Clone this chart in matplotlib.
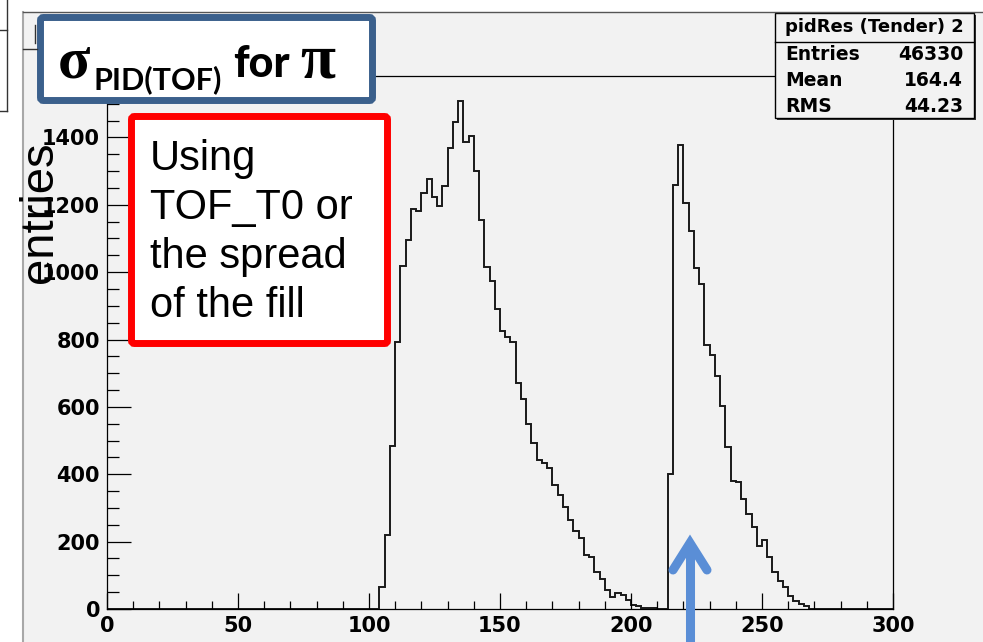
import numpy as np
import matplotlib.pyplot as plt
from matplotlib.patches import Rectangle, FancyBboxPatch

# pidRes (Tender) 2 -- 2-unit bins between 0 and 300
bin_width = 2
x_range = (0, 300)

peak1_start = 104
peak1_counts = [66, 220, 483, 793, 1019, 1096, 1187, 1183, 1235, 1277,
                1224, 1197, 1257, 1369, 1446, 1507, 1386, 1403, 1299, 1155,
                1016, 974, 890, 825, 807, 793, 670, 624, 550, 493,
                443, 434, 419, 367, 339, 304, 264, 231, 212, 159,
                155, 110, 88, 57, 37, 47, 42, 27, 12, 10,
                3, 2, 2]

peak2_start = 214
peak2_counts = [402, 1260, 1378, 1205, 1121, 1012, 966, 784, 754, 691,
                604, 482, 381, 378, 326, 282, 242, 187, 205, 155,
                110, 84, 65, 39, 25, 14, 9]

stat_title = 'pidRes (Tender) 2'
stat_names = ['Entries', 'Mean', 'RMS']
stat_values = ['46330', '164.4', '44.23']
note_lines = ['Using', 'TOF_T0 or', 'the spread', 'of the fill']

edges = np.arange(x_range[0], x_range[1] + bin_width, bin_width)
counts = np.zeros(len(edges) - 1)
i1 = (peak1_start - x_range[0]) // bin_width
i2 = (peak2_start - x_range[0]) // bin_width
counts[i1:i1 + len(peak1_counts)] = peak1_counts
counts[i2:i2 + len(peak2_counts)] = peak2_counts

W, H = 983, 642
bg = '#f2f2f2'
fig = plt.figure(figsize=(W / 100, H / 100), dpi=100, facecolor=bg)

# histogram frame
ax = fig.add_axes([107 / W, (H - 609) / H, (893 - 107) / W, (609 - 76) / H])
ax.set_facecolor(bg)
ax.stairs(counts, edges, color='#1a1a1a', lw=1.4)
ax.set_xlim(*x_range)
ax.set_ylim(0, 1.05 * counts.max())
for sp in ax.spines.values():
    sp.set_color('black')
    sp.set_linewidth(0.9)

ax.set_xticks(np.arange(0, 301, 50))
ax.set_xticks(np.arange(0, 301, 10), minor=True)
ax.set_yticks(np.arange(0, 1401, 200))
ax.set_yticks(np.arange(0, ax.get_ylim()[1], 50), minor=True)
ax.tick_params(which='both', direction='in', top=False, right=False,
               width=0.9, color='black')
ax.tick_params(axis='x', which='major', length=11.5, pad=5)
ax.tick_params(axis='x', which='minor', length=5.8)
ax.tick_params(axis='y', which='major', length=17, pad=5)
ax.tick_params(axis='y', which='minor', length=8.6)
for lab in ax.get_xticklabels() + ax.get_yticklabels():
    lab.set_fontfamily('DejaVu Sans')
    lab.set_fontweight('bold')
    lab.set_fontsize(15)

# overlay in pixel units
ov = fig.add_axes([0, 0, 1, 1], zorder=5)
ov.set_xlim(0, W)
ov.set_ylim(H, 0)
ov.axis('off')
ov.patch.set_alpha(0)

# canvas border and the edge of the neighbouring pad
ov.add_patch(Rectangle((0, 0), W, 12, fc='white', ec='none'))
ov.add_patch(Rectangle((0, 0), 23, H, fc='white', ec='none'))
ov.plot([23, 23], [12, H], color='#a8a8a8', lw=1.5)
ov.plot([23, W], [12, 12], color='#555555', lw=1)
ov.plot([7, 7], [0, 111], color='#333333', lw=1)
ov.plot([0, 7], [111, 111], color='#333333', lw=1)
ov.plot([0, 7], [30, 30], color='#333333', lw=1)
ov.plot([23, 37], [49, 49], color='#333333', lw=1)
ov.plot([35, 35], [25, 43], color='#333333', lw=1)

ov.text(40, 212, 'entries', rotation=90, fontsize=34, ha='center',
        va='center', family='Liberation Sans')

# stats box
ov.add_patch(Rectangle((777, 15), 199, 105, fc='#333333', ec='none'))
ov.add_patch(Rectangle((775, 13), 199, 105, fc=bg, ec='black', lw=1))
ov.plot([775, 974], [42, 42], color='black', lw=1)
ov.text(874, 27, stat_title, ha='center', va='center', fontsize=13,
        family='DejaVu Sans', fontweight='bold')
for k, (name, val) in enumerate(zip(stat_names, stat_values)):
    y = 54 + 26.5 * k
    ov.text(785, y, name, ha='left', va='center', fontsize=13.5,
            family='DejaVu Sans', fontweight='bold')
    ov.text(963, y, val, ha='right', va='center', fontsize=13.5,
            family='DejaVu Sans', fontweight='bold')

# title box
ov.add_patch(FancyBboxPatch((40.5, 17.5), 332, 83,
                            boxstyle='round,pad=0,rounding_size=3',
                            fc='white', ec='#3b608c', lw=5))
ov.text(58, 78, '\u03c3', family='Liberation Serif', fontweight='bold',
        fontsize=43, va='baseline', ha='left')
ov.text(94, 89, 'PID(TOF)', family='Lato', fontweight='bold', fontsize=22,
        va='baseline', ha='left')
ov.text(233, 77, 'for', family='Lato', fontweight='black', fontsize=31,
        va='baseline', ha='left')
ov.text(300, 77, '\u03c0', family='Liberation Serif', fontweight='bold',
        fontsize=46, va='baseline', ha='left')

# note box
ov.add_patch(FancyBboxPatch((131.5, 116.5), 256, 227,
                            boxstyle='round,pad=0,rounding_size=3',
                            fc='white', ec='#ff0000', lw=5))
for k, line in enumerate(note_lines):
    ov.text(150, 170 + 49 * k, line, family='Liberation Sans', fontsize=30,
            va='baseline', ha='left')

# arrow
arrow_c = '#5a8ed6'
ov.plot([690, 690], [H, 548], color=arrow_c, lw=6.5, solid_capstyle='butt')
ov.plot([673, 690, 707], [570, 543, 570], color=arrow_c, lw=6.5,
        solid_capstyle='round', solid_joinstyle='miter')

fig.savefig('out.png', dpi=100, facecolor=fig.get_facecolor())
